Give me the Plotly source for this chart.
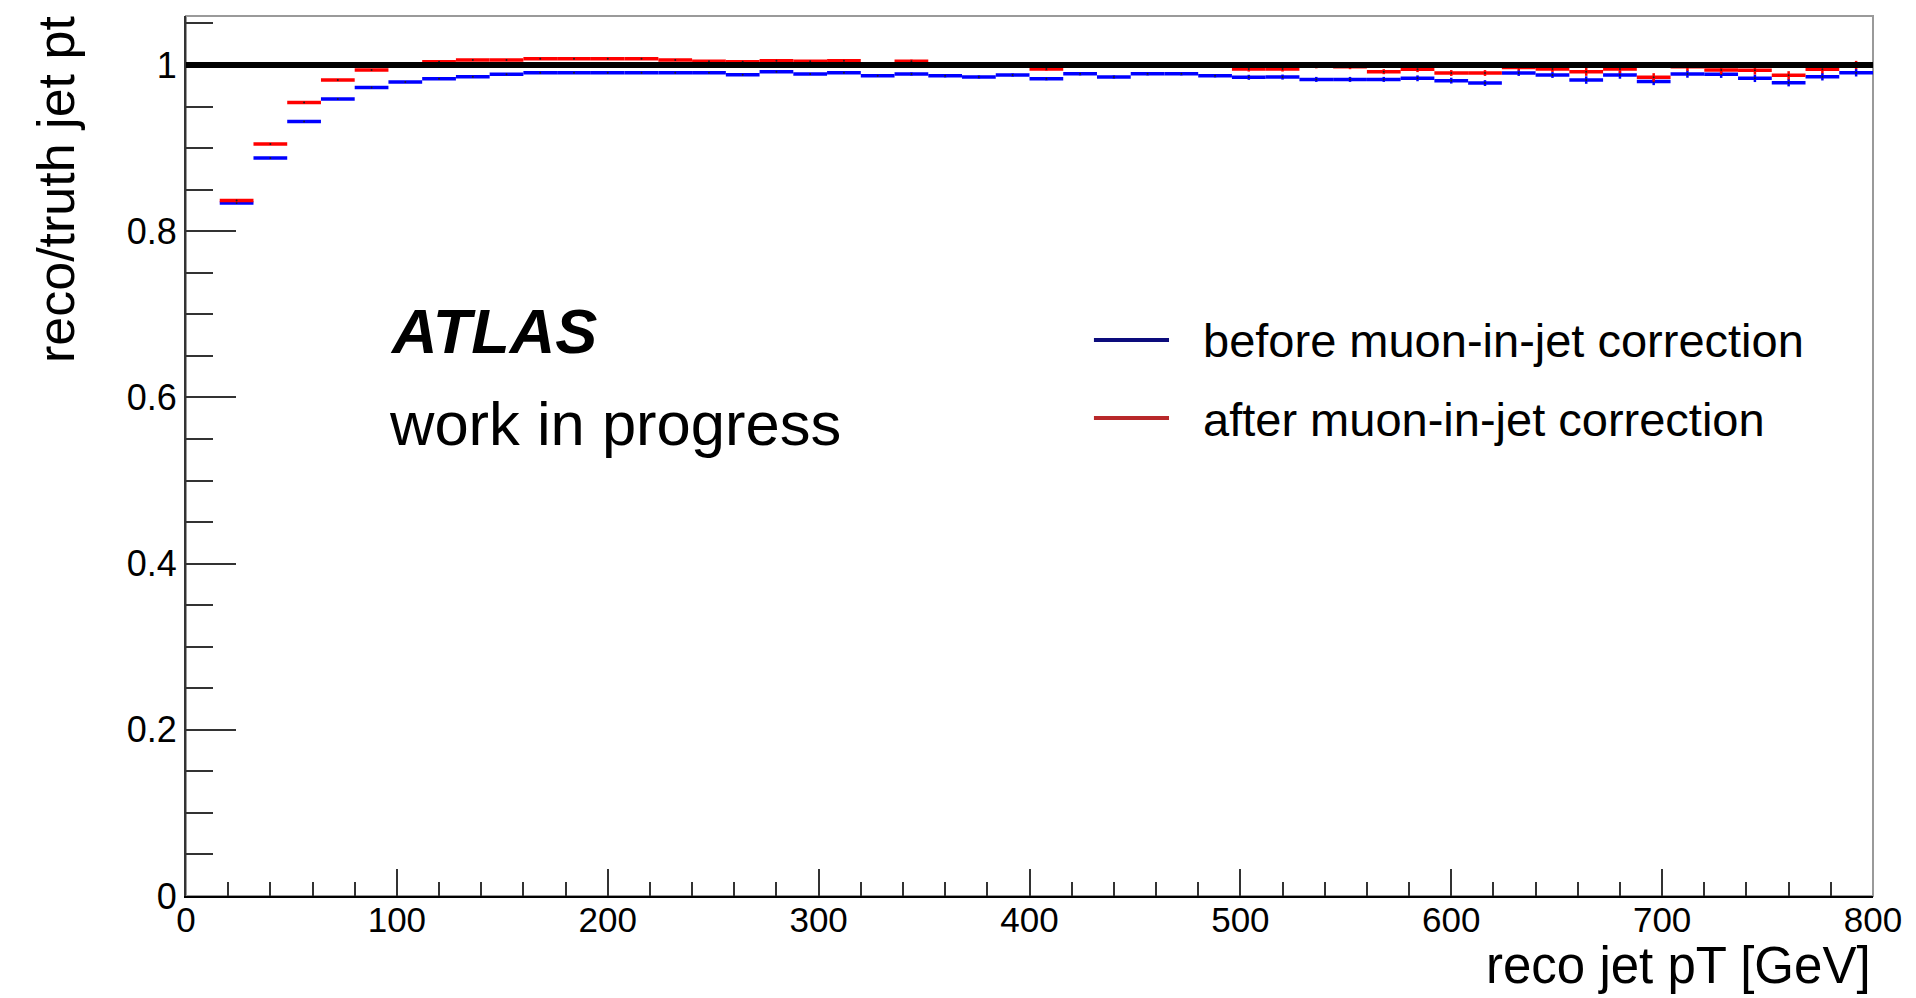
import plotly.graph_objects as go

# 16 GeV bins from 16 to 800 GeV
bin_low = [16 * k for k in range(1, 50)]
bin_width = 16

# reco/truth jet pt response, before muon-in-jet correction
before = [0.834, 0.888, 0.932, 0.959, 0.973, 0.9795, 0.9835, 0.986, 0.989, 0.9907,
          0.9907, 0.9907, 0.9907, 0.9907, 0.9907, 0.9884, 0.9920, 0.9892, 0.9907, 0.9871,
          0.9892, 0.9871, 0.9856, 0.9880, 0.9836, 0.9895, 0.9856, 0.9895, 0.9895, 0.9871,
          0.9852, 0.9855, 0.9827, 0.9827, 0.9827, 0.9840, 0.9812, 0.9783, 0.9904, 0.9880,
          0.9819, 0.9880, 0.9803, 0.9892, 0.9890, 0.9840, 0.9788, 0.9859, 0.9907]

# reco/truth jet pt response, after muon-in-jet correction
after = [0.837, 0.905, 0.955, 0.982, 0.994, 0.999, 1.004, 1.006, 1.006, 1.0076,
         1.0076, 1.0076, 1.0076, 1.006, 1.0046, 1.004, 1.005, 1.0046, 1.005, 1.000,
         1.0045, 1.000, 0.999, 1.000, 0.9952, 0.999, 1.000, 0.999, 1.000, 0.999,
         0.9952, 0.9952, 0.999, 0.998, 0.9920, 0.9950, 0.9904, 0.9904, 0.997, 0.9952,
         0.9920, 0.9952, 0.9852, 0.998, 0.9940, 0.9936, 0.9876, 0.9950, 1.000]

# statistical uncertainties per bin
before_err = [0.0005] * 10 + [0.001] * 10 + [0.002] * 10 + [0.003] * 5 + [0.0035] * 5 + [0.0045] * 9
after_err = [0.0005] * 10 + [0.001] * 10 + [0.002] * 10 + [0.003] * 5 + [0.0035] * 5 + [0.005] * 9

x_ticks = [0, 100, 200, 300, 400, 500, 600, 700, 800]
y_ticks = [0, 0.2, 0.4, 0.6, 0.8, 1.0]
y_tick_text = ["0", "0.2", "0.4", "0.6", "0.8", "1"]

centers = [lo + bin_width / 2 for lo in bin_low]
half = [bin_width / 2] * len(centers)

FONT = "Liberation Sans, Arial, Helvetica, sans-serif"

fig = go.Figure()


def add_hist(values, errors, color):
    fig.add_trace(go.Scatter(
        x=centers, y=values, mode="markers",
        marker=dict(size=2, color="#202020"),
        error_x=dict(type="data", array=half, width=0, thickness=3.5, color=color),
        error_y=dict(type="data", array=errors, width=0, thickness=2.5, color=color),
        showlegend=False, hoverinfo="x+y",
    ))


add_hist(before, before_err, "#0000ff")
add_hist(after, after_err, "#ff0000")

# plot frame (grey top/right edges)
fig.add_shape(type="rect", xref="paper", yref="paper", x0=0, x1=1, y0=0, y1=1,
              line=dict(color="#9a9a9a", width=2), layer="below")
# unity reference line
fig.add_shape(type="line", xref="x", yref="y", x0=0, x1=800, y0=1, y1=1,
              line=dict(color="black", width=6), layer="above")

# legend entries
legend_rows = [
    ("before muon-in-jet correction", "#0c0c7c", 0.6318, 0.6307),
    ("after muon-in-jet correction", "#b8282a", 0.5432, 0.5420),
]
for label, col, yl, yt in legend_rows:
    fig.add_shape(type="line", xref="paper", yref="paper", x0=0.5382, x1=0.5827,
                  y0=yl, y1=yl, line=dict(color=col, width=4))
    fig.add_annotation(text=label, xref="paper", yref="paper", x=0.6017, y=yt,
                       xanchor="left", yanchor="middle", showarrow=False,
                       font=dict(family=FONT, size=47, color="black"))

# experiment label
fig.add_annotation(text="<b><i>ATLAS</i></b>", xref="paper", yref="paper",
                   x=0.1200, y=0.642, xanchor="left", yanchor="middle", showarrow=False,
                   font=dict(family=FONT, size=63, color="black"))
fig.add_annotation(text="work in progress", xref="paper", yref="paper",
                   x=0.1190, y=0.5375, xanchor="left", yanchor="middle", showarrow=False,
                   font=dict(family=FONT, size=61.5, color="black"))

# axis titles
fig.add_annotation(text="reco jet pT [GeV]", xref="paper", yref="paper",
                   x=1.0, y=-0.114, xanchor="right", yanchor="bottom", showarrow=False,
                   font=dict(family=FONT, size=51, color="black"))
fig.add_annotation(text="reco/truth jet pt", xref="paper", yref="paper",
                   x=-0.0775, y=1.002, xanchor="center", yanchor="top", showarrow=False,
                   textangle=-90, font=dict(family=FONT, size=52, color="black"))

fig.update_xaxes(
    range=[0, 800], tickvals=x_ticks, ticks="inside", ticklen=27, tickwidth=1.5,
    tickcolor="#333", showline=True, linecolor="black", linewidth=2, showgrid=False,
    zeroline=False, tickfont=dict(family=FONT, size=35, color="black"),
    ticklabelstandoff=-8,
    minor=dict(dtick=20, tick0=0, ticks="inside", ticklen=14, tickwidth=1.5, tickcolor="#333", showgrid=False),
)
fig.update_yaxes(
    range=[0, 1.059], tickvals=y_ticks, ticktext=y_tick_text, ticks="inside", ticklen=50,
    tickwidth=1.5, tickcolor="#333", showline=True, linecolor="#333", linewidth=2,
    showgrid=False, zeroline=False, tickfont=dict(family=FONT, size=36, color="black"),
    minor=dict(dtick=0.05, tick0=0, ticks="inside", ticklen=27, tickwidth=1.5, tickcolor="#333", showgrid=False),
)

fig.update_layout(
    width=1916, height=998, autosize=False,
    margin=dict(l=186, r=43, t=16, b=102, pad=0),
    paper_bgcolor="white", plot_bgcolor="white",
    showlegend=False,
)

fig.write_html("out.html", config={"displayModeBar": False})
